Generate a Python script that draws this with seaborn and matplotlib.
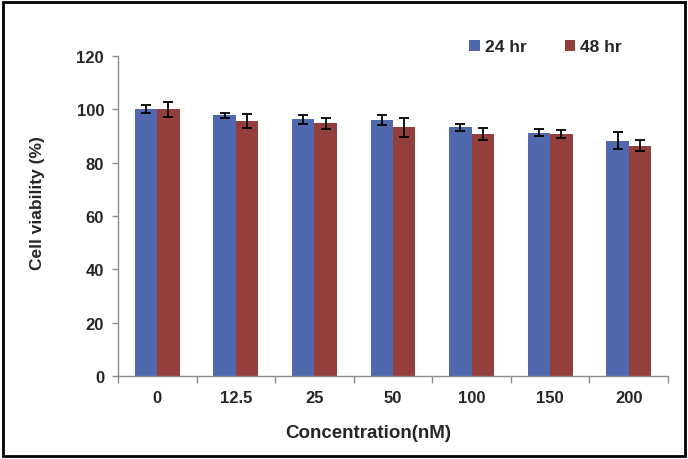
import numpy as np
import pandas as pd
import matplotlib
matplotlib.use('Agg')
import matplotlib.pyplot as plt
from matplotlib.patches import Rectangle
from matplotlib.ticker import FixedLocator
import seaborn as sns

# Data
concentrations = ['0', '12.5', '25', '50', '100', '150', '200']
viability_24 = [100.1, 97.8, 96.3, 96.0, 93.3, 91.2, 88.3]
viability_48 = [100.0, 95.6, 94.8, 93.3, 90.8, 90.8, 86.4]
err_24 = [1.6, 0.9, 1.6, 1.8, 1.4, 1.3, 3.2]
err_48 = [2.8, 2.7, 2.1, 3.5, 2.1, 1.6, 2.1]
series_names = ['24 hr', '48 hr']
colors = ['#5068AE', '#953F3D']

df = pd.DataFrame({
    'Concentration': concentrations * 2,
    'Viability': viability_24 + viability_48,
    'Time': [series_names[0]] * 7 + [series_names[1]] * 7,
})

sns.set_style('white')
plt.rcParams['font.family'] = ['Liberation Sans', 'DejaVu Sans']
plt.rcParams['font.weight'] = 'bold'

fig = plt.figure(figsize=(6.88, 4.6), dpi=100)
ax = fig.add_axes([0.1715, 0.180, 0.7995, 0.696])

sns.barplot(data=df, x='Concentration', y='Viability', hue='Time',
            order=concentrations, hue_order=series_names, palette=colors,
            width=0.57, gap=0, errorbar=None, saturation=1, ax=ax,
            edgecolor='none', linewidth=0)

# error bars placed on the bars seaborn drew
errs = err_24 + err_48
for patch, e in zip(ax.patches[:14], errs):
    xc = patch.get_x() + patch.get_width() / 2
    ax.errorbar(xc, patch.get_height(), yerr=e, fmt='none', ecolor='black',
                elinewidth=1.3, capsize=3.6, capthick=1.3)

ax.set_ylim(0, 120)
ax.set_xlim(-0.5, len(concentrations) - 0.5)
ax.set_yticks(range(0, 121, 20))

for side in ['top', 'right']:
    ax.spines[side].set_visible(False)
for side in ['left', 'bottom']:
    ax.spines[side].set_color('#8c8c8c')
    ax.spines[side].set_linewidth(1)

ax.tick_params(axis='y', direction='out', length=4, width=1, color='#8c8c8c',
               pad=6, labelsize=12, left=True)
ax.tick_params(axis='x', which='major', length=0, pad=10, labelsize=12)
ax.xaxis.set_minor_locator(FixedLocator(np.arange(-0.5, len(concentrations), 1)))
ax.tick_params(axis='x', which='minor', direction='out', length=5, width=1,
               color='#8c8c8c', bottom=True)
for lbl in ax.get_xticklabels() + ax.get_yticklabels():
    lbl.set_fontweight('bold')

ax.set_xlabel('Concentration(nM)', fontsize=13.5, fontweight='bold')
ax.set_ylabel('Cell viability (%)', fontsize=12.5, fontweight='bold')
ax.xaxis.set_label_coords(0.455, -0.148)
ax.yaxis.set_label_coords(-0.133, 0.544)

handles, labels = ax.get_legend_handles_labels()
ax.legend(handles, labels, ncol=2, frameon=False,
          loc='center', bbox_to_anchor=(0.793, 0.896),
          bbox_transform=fig.transFigure, handlelength=0.6, handleheight=0.6,
          handletextpad=0.3, columnspacing=2.2, prop={'weight': 'bold', 'size': 12.5})

# outer frame around the figure
fig.patches.append(Rectangle((0.004, 0.006), 0.992, 0.988, transform=fig.transFigure,
                             fill=False, edgecolor='black', linewidth=2))

fig.savefig('out.png', dpi=100)
